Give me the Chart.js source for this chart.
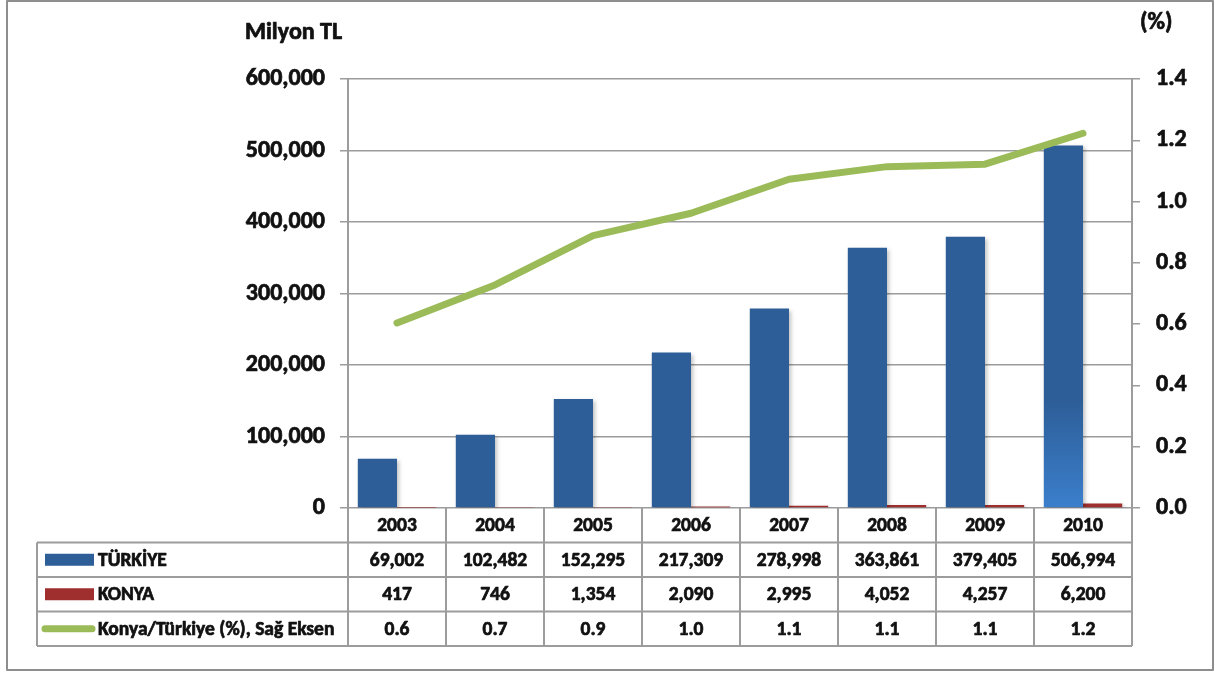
<!DOCTYPE html>
<html><head><meta charset="utf-8">
<script src="https://cdn.jsdelivr.net/npm/chart.js@4.4.0/dist/chart.umd.min.js"></script>
<style>
html,body{margin:0;padding:0;background:#fff;}
#wrap{position:relative;width:1215px;height:673px;}
canvas{display:block;}
</style></head><body>
<div id="wrap"><canvas id="c" width="1215" height="673"></canvas></div>
<script>
// ---- data ----
const years = ['2003','2004','2005','2006','2007','2008','2009','2010'];
const turkiye = [69002, 102482, 152295, 217309, 278998, 363861, 379405, 506994];
const konya = [417, 746, 1354, 2090, 2995, 4052, 4257, 6200];
const ratio = [0.604, 0.728, 0.889, 0.962, 1.073, 1.114, 1.122, 1.223];
const ratioLabels = ['0.6','0.7','0.9','1.0','1.1','1.1','1.1','1.2'];
const leftTicks = {min: 0, max: 600000, step: 100000};
const rightTicks = {min: 0, max: 1.4, step: 0.2};
const seriesNames = ['TÜRKİYE', 'KONYA', 'Konya/Türkiye (%), Sağ Eksen'];
const leftTitle = 'Milyon TL';
const rightTitle = '(%)';

// ---- styles ----
const FONT = 'Carlito, Lato, "Noto Sans", sans-serif';
const BLUE = '#2D5E98', RED = '#9E2F2E', GREEN = '#9BBB59';
const GRID = '#9c9c9c', TXT = '#111';
const STROKE_W = 0.7;

const fmt = v => Number(v).toLocaleString('en-US');

function blueFill(c) {
  const area = c.chart.chartArea;
  if (c.dataIndex === 7 && area) {
    const g = c.chart.ctx.createLinearGradient(0, area.top, 0, area.bottom);
    g.addColorStop(0, BLUE);
    g.addColorStop(0.75, BLUE);
    g.addColorStop(1, '#3B7FCC');
    return g;
  }
  return BLUE;
}

const shadowPlugin = {
  id: 'barShadow',
  beforeDatasetDraw(chart, args) {
    if (chart.data.datasets[args.index].type !== 'bar') return;
    const ctx = chart.ctx;
    ctx.save();
    ctx.shadowColor = 'rgba(0,0,0,0.25)';
    ctx.shadowBlur = 4;
    ctx.shadowOffsetX = 2;
    ctx.shadowOffsetY = 2;
  },
  afterDatasetDraw(chart, args) {
    if (chart.data.datasets[args.index].type !== 'bar') return;
    chart.ctx.restore();
  }
};

function boldText(ctx, s, x, y) {
  ctx.strokeText(s, x, y);
  ctx.fillText(s, x, y);
}

const tablePlugin = {
  id: 'dataTable',
  afterDraw(chart) {
    const ctx = chart.ctx, area = chart.chartArea, xs = chart.scales.x;
    const n = years.length;
    const w = (area.right - area.left) / n;
    const top = area.bottom;
    const rh = 34.5;
    const rows = [top, top + rh, top + 2 * rh, top + 3 * rh, top + 4 * rh];
    const labelLeft = 37;
    ctx.save();
    ctx.strokeStyle = GRID;
    ctx.lineWidth = 2;
    ctx.beginPath();
    for (let r = 1; r < rows.length; r++) {
      ctx.moveTo(labelLeft, rows[r]); ctx.lineTo(area.right, rows[r]);
    }
    for (let i = 0; i <= n; i++) {
      const x = area.left + i * w;
      ctx.moveTo(x, top); ctx.lineTo(x, rows[4]);
    }
    ctx.moveTo(labelLeft, rows[1]); ctx.lineTo(labelLeft, rows[4]);
    ctx.stroke();

    ctx.fillStyle = TXT;
    ctx.strokeStyle = TXT;
    ctx.lineWidth = STROKE_W;
    ctx.lineJoin = 'round';
    ctx.font = 'bold 19.5px ' + FONT;
    ctx.textAlign = 'center';
    ctx.textBaseline = 'middle';
    const cols = [years, turkiye.map(fmt), konya.map(fmt), ratioLabels];
    for (let r = 0; r < 4; r++) {
      const cy = (rows[r] + rows[r + 1]) / 2 + 1;
      for (let i = 0; i < n; i++) {
        boldText(ctx, cols[r][i], xs.getPixelForValue(i), cy);
      }
    }
    ctx.textAlign = 'left';
    const keyX0 = 45, keyX1 = 94;
    for (let r = 1; r < 4; r++) {
      const cy = (rows[r] + rows[r + 1]) / 2;
      if (r === 1 || r === 2) {
        ctx.fillStyle = r === 1 ? BLUE : RED;
        ctx.fillRect(keyX0, cy - 6, keyX1 - keyX0, 12);
      } else {
        ctx.save();
        ctx.strokeStyle = GREEN; ctx.lineWidth = 7; ctx.lineCap = 'round';
        ctx.beginPath(); ctx.moveTo(keyX0, cy); ctx.lineTo(keyX1 - 2, cy); ctx.stroke();
        ctx.restore();
      }
      ctx.fillStyle = TXT;
      boldText(ctx, seriesNames[r - 1], 98, cy + 1);
    }
    ctx.font = 'bold 24px ' + FONT;
    boldText(ctx, leftTitle, 245, 33);
    boldText(ctx, rightTitle, 1140, 23);
    ctx.strokeStyle = '#8e8e8e';
    ctx.lineWidth = 2;
    ctx.strokeRect(7, 1, 1206, 669);
    ctx.restore();
  }
};

new Chart(document.getElementById('c'), {
  data: {
    labels: years,
    datasets: [
      { type: 'bar', label: seriesNames[0], data: turkiye, backgroundColor: blueFill, yAxisID: 'y', order: 1,
        barPercentage: 1.0, categoryPercentage: 0.8 },
      { type: 'bar', label: seriesNames[1], data: konya, backgroundColor: RED, yAxisID: 'y', order: 1,
        barPercentage: 1.0, categoryPercentage: 0.8 },
      { type: 'line', label: seriesNames[2], data: ratio, yAxisID: 'y1', order: 0,
        borderColor: GREEN, borderWidth: 7, pointRadius: 0, tension: 0,
        borderCapStyle: 'round', borderJoinStyle: 'round', fill: false }
    ]
  },
  options: {
    responsive: false,
    devicePixelRatio: 1,
    animation: false,
    layout: { padding: { top: 79, bottom: 165, left: 0, right: 0 } },
    plugins: { legend: { display: false }, tooltip: { enabled: false }, title: { display: false } },
    scales: {
      x: { display: false, offset: true },
      y: {
        position: 'left', min: leftTicks.min, max: leftTicks.max,
        afterFit(s) { s.width = 348; },
        ticks: { stepSize: leftTicks.step, padding: 15, color: TXT,
                 textStrokeColor: TXT, textStrokeWidth: STROKE_W,
                 font: { family: FONT, size: 24, weight: 'bold' }, callback: v => fmt(v) },
        grid: { color: GRID, lineWidth: 1.5, tickLength: 8, drawTicks: true },
        border: { display: true, color: GRID, width: 2 }
      },
      y1: {
        position: 'right', min: rightTicks.min, max: rightTicks.max,
        afterFit(s) { s.width = 83; },
        ticks: { stepSize: rightTicks.step, padding: 16, color: TXT,
                 textStrokeColor: TXT, textStrokeWidth: STROKE_W,
                 font: { family: FONT, size: 24, weight: 'bold' }, callback: v => Number(v).toFixed(1) },
        grid: { drawOnChartArea: false, color: GRID, lineWidth: 1.5, tickLength: 8 },
        border: { display: true, color: GRID, width: 2 }
      }
    }
  },
  plugins: [shadowPlugin, tablePlugin]
});
</script>
</body></html>
